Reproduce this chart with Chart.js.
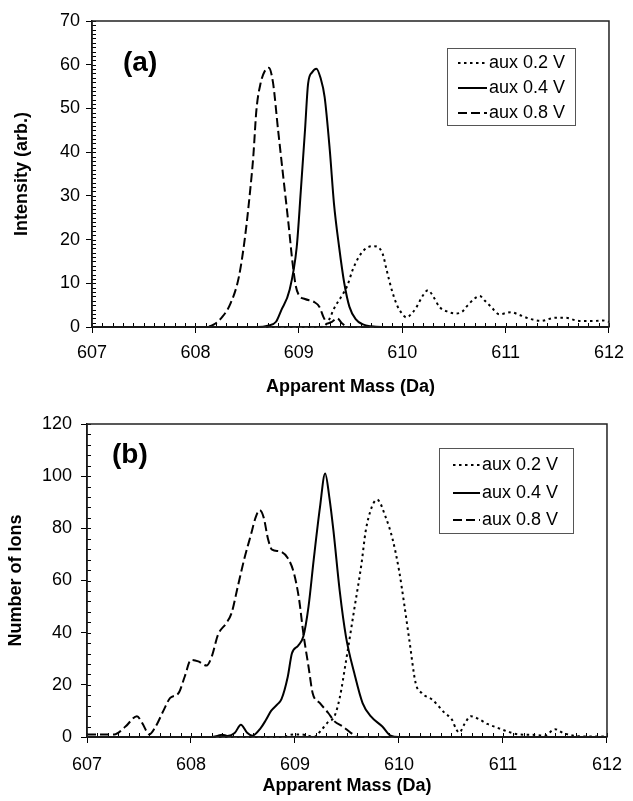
<!DOCTYPE html>
<html>
<head>
<meta charset="utf-8">
<script src="https://cdn.jsdelivr.net/npm/chart.js@4/dist/chart.umd.min.js"></script>
<style>
  body { margin: 0; background: #fff; }
  #wrap { position: relative; width: 633px; height: 801px; }
  #chart-a { position: absolute; left: 0; top: 0; }
  #chart-b { position: absolute; left: 0; top: 400px; }
</style>
</head>
<body>
<div id="wrap">
  <canvas id="chart-a" width="633" height="400"></canvas>
  <canvas id="chart-b" width="633" height="401"></canvas>
</div>
<script>
// legend labels, same for both panels
const seriesLabels = ["aux 0.2 V", "aux 0.4 V", "aux 0.8 V"];

// ---- panel (a): intensity ----
const a02Mass = [607, 609.2, 609.26, 609.3, 609.34, 609.41, 609.47, 609.52, 609.58, 609.65, 609.73, 609.81, 609.85, 609.9, 609.95, 610.0, 610.04, 610.1, 610.14, 610.2, 610.25, 610.3, 610.36, 610.44, 610.52, 610.58, 610.62, 610.7, 610.75, 610.8, 610.86, 610.94, 611.05, 611.12, 611.23, 611.34, 611.48, 611.58, 611.71, 611.87, 611.94, 612];
const a02Int  = [0, 0, 0.5, 2, 4.2, 6.9, 9.5, 13, 16, 18, 18.5, 16.8, 13, 8.4, 5, 3, 2.2, 3.3, 4.6, 7.2, 8.4, 7, 4.6, 3.5, 3.1, 3.5, 4.6, 6.5, 7.1, 6, 4.6, 2.9, 3.4, 2.9, 1.9, 1.4, 2.1, 2.1, 1.4, 1.4, 1.5, 1.2];

const a04Mass = [607, 608.6, 608.7, 608.78, 608.83, 608.91, 608.98, 609.02, 609.06, 609.09, 609.13, 609.17, 609.21, 609.25, 609.3, 609.34, 609.39, 609.44, 609.49, 609.55, 609.62, 609.7, 609.8, 612];
const a04Int  = [0, 0, 0.3, 1.2, 3.8, 8.4, 18.3, 31.3, 45, 55.7, 58.3, 59.1, 57, 52.6, 40.4, 28.3, 18.3, 10, 4.6, 1.8, 0.6, 0.15, 0, 0];

const a08Mass = [607, 608.1, 608.18, 608.26, 608.34, 608.42, 608.48, 608.53, 608.56, 608.59, 608.63, 608.67, 608.71, 608.75, 608.8, 608.85, 608.9, 608.94, 608.97, 609.0, 609.06, 609.15, 609.2, 609.24, 609.28, 609.32, 609.37, 609.42, 609.48, 612];
const a08Int  = [0, 0, 0.6, 2.3, 5.4, 11.4, 20.6, 31.3, 39, 49.6, 55.7, 58.5, 59.3, 56, 45, 34.3, 23.7, 14.6, 9.5, 7.3, 6.4, 5.7, 4.6, 2.2, 0.8, 1.2, 2.0, 0.8, 0, 0];

// ---- panel (b): number of ions ----
const b02Mass = [607, 608.9, 608.95, 609.05, 609.12, 609.18, 609.25, 609.31, 609.38, 609.43, 609.49, 609.57, 609.64, 609.68, 609.74, 609.79, 609.87, 609.94, 610.0, 610.05, 610.1, 610.16, 610.22, 610.32, 610.44, 610.51, 610.55, 610.58, 610.63, 610.69, 610.77, 610.85, 610.95, 611.05, 611.15, 611.3, 611.4, 611.5, 611.58, 611.68, 611.8, 612];
const b02Ions = [0, 0, 0.8, 1, 0.6, 0, 2.5, 5.4, 8, 15, 29, 49, 66.6, 79, 88.3, 91, 84.5, 75.6, 64, 51, 37, 20.7, 16.8, 14.3, 9.2, 6.6, 3, 1.7, 5, 8, 6.8, 5, 3.5, 2, 1, 0.8, 0.5, 3, 1.5, 0.5, 0.2, 0.2];

const b04Mass = [607, 608.2, 608.26, 608.3, 608.35, 608.42, 608.48, 608.54, 608.59, 608.67, 608.72, 608.77, 608.83, 608.87, 608.93, 608.97, 609.03, 609.08, 609.13, 609.18, 609.24, 609.29, 609.33, 609.37, 609.43, 609.49, 609.57, 609.65, 609.73, 609.84, 609.92, 610.0, 612];
const b04Ions = [0, 0, 0.5, 0.9, 0.4, 1.5, 4.7, 1.6, 0.5, 3.4, 6.5, 10, 12.5, 14.5, 23, 32, 35, 38.5, 50, 68, 88, 101, 92, 79, 56, 38.5, 24.5, 13, 7.9, 4, 0.5, 0, 0];

const b08Mass = [607, 607.26, 607.37, 607.48, 607.53, 607.6, 607.66, 607.74, 607.8, 607.88, 607.94, 608.0, 608.07, 608.15, 608.2, 608.26, 608.34, 608.39, 608.45, 608.51, 608.58, 608.62, 608.66, 608.7, 608.74, 608.78, 608.85, 608.93, 608.99, 609.04, 609.08, 609.13, 609.17, 609.24, 609.32, 609.38, 609.46, 609.54, 609.6, 612];
const b08Ions = [1, 1, 4, 8, 5.4, 1, 4, 10.5, 15, 16.8, 23.2, 29.6, 29, 27.4, 30.9, 39.2, 43.7, 47.5, 57.7, 67.9, 78.1, 84, 87, 84, 76, 71.8, 71.2, 68.6, 62.8, 52.6, 39.8, 27, 16.8, 13, 9.2, 6, 4, 1.5, 0, 0];

const FONT = "'Liberation Sans', Arial, sans-serif";
Chart.defaults.font.family = FONT;
Chart.defaults.color = "#000";

function pts(xs, ys) {
  return xs.map((x, i) => ({ x: x, y: ys[i] }));
}

// minor ticks, frame box, panel letter and legend box
const decor = {
  id: "decor",
  afterDraw(chart, args, o) {
    const ctx = chart.ctx;
    const a = chart.chartArea;
    const xs = chart.scales.x, ys = chart.scales.y;
    ctx.save();
    ctx.strokeStyle = "#000";
    ctx.lineWidth = 1;
    ctx.beginPath();
    for (let i = 0; i <= 50; i++) {
      const px = Math.round(xs.getPixelForValue(607 + i * 0.1)) + 0.5;
      ctx.moveTo(px, a.bottom);
      ctx.lineTo(px, a.bottom - 4);
    }
    for (let v = 0; v <= ys.max; v += o.yMinor) {
      const py = Math.round(ys.getPixelForValue(v)) + 0.5;
      ctx.moveTo(a.left, py);
      ctx.lineTo(a.left + 4, py);
    }
    ctx.stroke();

    // box around the plot
    ctx.lineWidth = 1.5;
    ctx.strokeStyle = "#222";
    ctx.strokeRect(a.left, a.top, a.right - a.left, a.bottom - a.top);

    // panel letter
    ctx.fillStyle = "#000";
    ctx.font = "bold 28px " + FONT;
    ctx.textBaseline = "middle";
    ctx.textAlign = "left";
    ctx.fillText(o.tag, o.tagX, o.tagY);

    // legend
    const lg = o.legend;
    ctx.fillStyle = "#fff";
    ctx.fillRect(lg.x, lg.y, lg.w, lg.h);
    ctx.lineWidth = 1;
    ctx.strokeStyle = "#555";
    ctx.strokeRect(lg.x + 0.5, lg.y + 0.5, lg.w, lg.h);
    ctx.font = "18px " + FONT;
    chart.data.datasets.forEach((ds, i) => {
      const ry = lg.rows[i];
      ctx.strokeStyle = "#000";
      ctx.lineWidth = ds.borderWidth;
      ctx.setLineDash(ds.borderDash || []);
      ctx.beginPath();
      ctx.moveTo(lg.l0, ry);
      ctx.lineTo(lg.l1, ry);
      ctx.stroke();
      ctx.setLineDash([]);
      ctx.fillStyle = "#000";
      ctx.fillText(ds.label, lg.tx, ry);
    });
    ctx.restore();
  }
};

function drawPanel(id, series, p) {
  const styles = [[2.5, 3.5], [], [9, 4]];
  new Chart(document.getElementById(id), {
    type: "line",
    data: {
      datasets: series.map((s, i) => ({
        label: seriesLabels[i],
        data: s,
        borderColor: "#000",
        borderWidth: 2,
        borderDash: styles[i],
        pointRadius: 0,
        fill: false,
        cubicInterpolationMode: "monotone",
        clip: false
      }))
    },
    options: {
      responsive: false,
      animation: false,
      layout: { padding: { top: p.top, right: 19, left: 0, bottom: 0 } },
      plugins: {
        legend: { display: false },
        tooltip: { enabled: false },
        decor: p.decor
      },
      scales: {
        x: {
          type: "linear",
          min: 607,
          max: 612,
          afterFit: (s) => { s.height = p.xHeight; },
          ticks: { stepSize: 1, padding: p.xTickPad, font: { size: 18 }, callback: (v) => String(v) },
          grid: { drawOnChartArea: false, tickLength: 6, color: "#000" },
          border: { color: "#000", width: 1.5 },
          title: { display: true, text: "Apparent Mass (Da)", font: { size: 18, weight: "bold" }, padding: { top: 0, bottom: p.xTitlePad } }
        },
        y: {
          min: 0,
          max: p.yMax,
          afterFit: (s) => { s.width = p.yWidth; },
          ticks: { stepSize: p.yStep, padding: p.yTickPad, font: { size: 18 } },
          grid: { drawOnChartArea: false, tickLength: 6, color: "#000" },
          border: { color: "#000", width: 1.5 },
          title: { display: true, text: p.yTitle, font: { size: 18, weight: "bold" }, padding: { top: p.yTitlePad, bottom: 0 } }
        }
      }
    },
    plugins: [decor]
  });
}

drawPanel("chart-a", [pts(a02Mass, a02Int), pts(a04Mass, a04Int), pts(a08Mass, a08Int)], {
  top: 21, xHeight: 73, yWidth: 92, yMax: 70, yStep: 10,
  xTickPad: 9, yTickPad: 6, xTitlePad: 2, yTitlePad: 11,
  yTitle: "Intensity (arb.)",
  decor: {
    yMinor: 1, tag: "(a)", tagX: 123, tagY: 63,
    legend: { x: 447, y: 48, w: 128, h: 77, rows: [63, 88, 113], l0: 458, l1: 487, tx: 489 }
  }
});

drawPanel("chart-b", [pts(b02Mass, b02Ions), pts(b04Mass, b04Ions), pts(b08Mass, b08Ions)], {
  top: 24, xHeight: 64, yWidth: 87, yMax: 120, yStep: 20,
  xTickPad: 11, yTickPad: 9, xTitlePad: 4, yTitlePad: 5,
  yTitle: "Number of Ions",
  decor: {
    yMinor: 4, tag: "(b)", tagX: 112, tagY: 55,
    legend: { x: 439, y: 48, w: 134, h: 85, rows: [65, 93, 120], l0: 453, l1: 480, tx: 482 }
  }
});
</script>
</body>
</html>
